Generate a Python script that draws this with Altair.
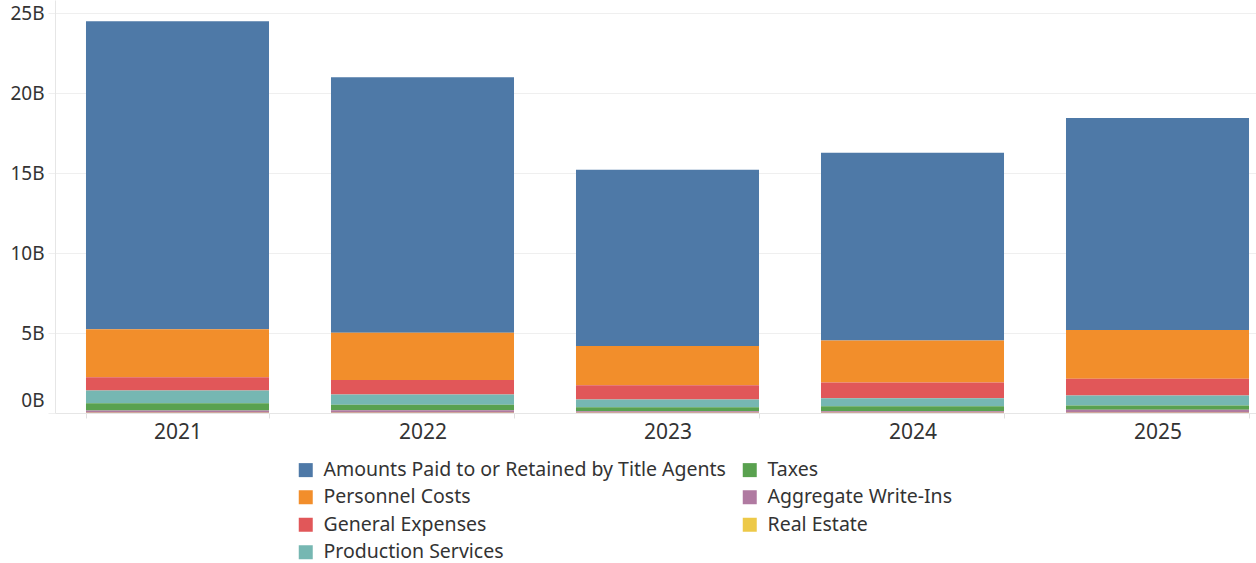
import altair as alt
import pandas as pd

years = ["2021", "2022", "2023", "2024", "2025"]

categories = [
    "Amounts Paid to or Retained by Title Agents",
    "Personnel Costs",
    "General Expenses",
    "Production Services",
    "Taxes",
    "Aggregate Write-Ins",
    "Real Estate",
]

# values in billions
amounts_paid = [19.25, 15.98, 11.02, 11.73, 13.25]
personnel_costs = [3.00, 2.94, 2.46, 2.63, 3.04]
general_expenses = [0.83, 0.92, 0.89, 0.98, 1.04]
production_services = [0.79, 0.64, 0.48, 0.50, 0.63]
taxes = [0.46, 0.34, 0.25, 0.31, 0.27]
aggregate_write_ins = [0.14, 0.16, 0.10, 0.10, 0.19]
real_estate = [0.01, 0.01, 0.01, 0.01, 0.01]

series = {
    "Amounts Paid to or Retained by Title Agents": amounts_paid,
    "Personnel Costs": personnel_costs,
    "General Expenses": general_expenses,
    "Production Services": production_services,
    "Taxes": taxes,
    "Aggregate Write-Ins": aggregate_write_ins,
    "Real Estate": real_estate,
}

colors = {
    "Amounts Paid to or Retained by Title Agents": "#4e79a7",
    "Personnel Costs": "#f28e2b",
    "General Expenses": "#e15759",
    "Production Services": "#76b7b2",
    "Taxes": "#59a14f",
    "Aggregate Write-Ins": "#b07aa1",
    "Real Estate": "#edc948",
}

# bottom-to-top stacking rank
stack_rank = {
    "Real Estate": 0,
    "Aggregate Write-Ins": 1,
    "Taxes": 2,
    "Production Services": 3,
    "General Expenses": 4,
    "Personnel Costs": 5,
    "Amounts Paid to or Retained by Title Agents": 6,
}

rows = []
for cat in categories:
    for y, v in zip(years, series[cat]):
        rows.append({"Year": y, "Category": cat, "Value": v, "rank": stack_rank[cat]})
df = pd.DataFrame(rows)

FONT = "Noto Sans"
TXT = "#333333"
GRID = "#efefef"

chart = (
    alt.Chart(df)
    .mark_bar()
    .encode(
        x=alt.X(
            "Year:N",
            title=None,
            scale=alt.Scale(paddingInner=0.253, paddingOuter=0.0775, align=0.816),
            axis=alt.Axis(
                labelAngle=0,
                labelFont=FONT,
                labelFontSize=21,
                labelColor=TXT,
                labelPadding=3,
                tickBand="extent",
                tickSize=5,
                tickColor="#e0e0e0",
                domainColor="#e6e6e6",
                grid=False,
            ),
        ),
        y=alt.Y(
            "Value:Q",
            title=None,
            stack="zero",
            scale=alt.Scale(domain=[0, 25.8125], nice=False, zero=True),
            axis=alt.Axis(
                values=[0, 5, 10, 15, 20, 25],
                labelExpr="datum.value + 'B'",
                labelFont=FONT,
                labelFontSize=19,
                labelColor=TXT,
                labelPadding=4,
                labelOffset={"condition": {"test": "datum.value == 0", "value": -13}, "value": 0},
                tickSize=7,
                tickColor=GRID,
                domainColor="#e6e6e6",
                gridColor=GRID,
            ),
        ),
        color=alt.Color(
            "Category:N",
            title=None,
            scale=alt.Scale(domain=categories, range=[colors[c] for c in categories]),
            legend=alt.Legend(
                orient="none",
                legendX=241,
                legendY=460,
                columns=2,
                columnPadding=14,
                rowPadding=6.5,
                symbolType="square",
                symbolSize=196,
                symbolStrokeWidth=0,
                labelFont=FONT,
                labelFontSize=19.5,
                labelColor=TXT,
                labelOffset=8,
                labelLimit=600,
                padding=0,
            ),
        ),
        order=alt.Order("rank:Q", sort="ascending"),
    )
    .properties(
        width=1201,
        height=413,
        autosize=alt.AutoSizeParams(type="none"),
        padding={"left": 55, "top": 0, "right": 0, "bottom": 150},
    )
    .configure_view(stroke=None)
    .configure_axis(domainWidth=1)
)

chart.save("out.html", embed_options={"renderer": "svg", "actions": False})
